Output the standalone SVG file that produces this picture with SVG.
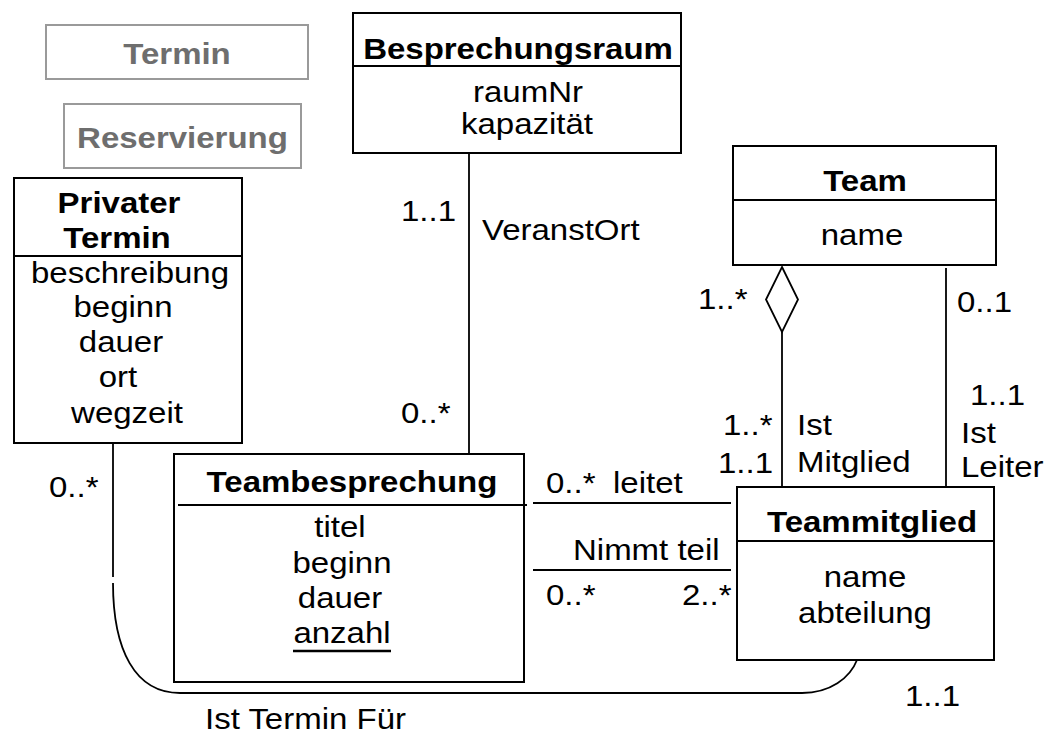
<svg xmlns="http://www.w3.org/2000/svg" width="1050" height="736" viewBox="0 0 1050 736">
  <style>
    text { font-family: "Liberation Sans", Arial, sans-serif; font-size: 30px; fill: #000; }
    .b { font-weight: bold; }
    .c { text-anchor: middle; }
    .grey { fill: #6e6e6e; }
    .box { fill: #fff; stroke: #000; stroke-width: 2; }
    .gbox { fill: #fff; stroke: #9a9a9a; stroke-width: 2; }
    .div { stroke: #000; stroke-width: 2; }
    .edge { fill: none; stroke: #000; stroke-width: 1.8; }
  </style>

  <!-- abstract classes (grey) -->
  <g id="termin">
    <rect class="gbox" x="46" y="25" width="262" height="54"/>
    <text class="b c grey" transform="translate(177,64) scale(1.1,1)">Termin</text>
  </g>
  <g id="reservierung">
    <rect class="gbox" x="64" y="104" width="237" height="64"/>
    <text class="b c grey" transform="translate(182.5,148) scale(1.1,1)">Reservierung</text>
  </g>

  <!-- connectors -->
  <g id="connectors">
    <!-- VeranstOrt -->
    <line class="edge" x1="469" y1="153" x2="469" y2="454"/>
    <!-- Ist Mitglied (aggregation) -->
    <polygon class="edge" fill="#fff" points="782,267 798,299.5 782,332 766,299.5"/>
    <line class="edge" x1="782" y1="332" x2="782" y2="487"/>
    <!-- Ist Leiter -->
    <line class="edge" x1="946" y1="268" x2="946" y2="487"/>
    <!-- leitet -->
    <line class="edge" x1="533" y1="503" x2="731" y2="503"/>
    <!-- Nimmt teil -->
    <line class="edge" x1="533" y1="570" x2="731" y2="570"/>
    <!-- Ist Termin Für -->
    <line class="edge" x1="113" y1="444" x2="113" y2="577"/>
    <path class="edge" d="M113,583 C113,650 135,693 180,693 L802,693 C830,693 850,678 857,660"/>

    <!-- multiplicities and role names -->
    <text transform="translate(401,221) scale(1.1,1)">1..1</text>
    <text transform="translate(482,240) scale(1.1,1)">VeranstOrt</text>
    <text transform="translate(401,423) scale(1.1,1)">0..*</text>
    <text transform="translate(698,309) scale(1.1,1)">1..*</text>
    <text transform="translate(957,312) scale(1.1,1)">0..1</text>
    <text transform="translate(723,435) scale(1.1,1)">1..*</text>
    <text transform="translate(718,473) scale(1.1,1)">1..1</text>
    <text transform="translate(797,435) scale(1.1,1)">Ist</text>
    <text transform="translate(797,472) scale(1.1,1)">Mitglied</text>
    <text transform="translate(970,405) scale(1.1,1)">1..1</text>
    <text transform="translate(961,443) scale(1.1,1)">Ist</text>
    <text transform="translate(961,477) scale(1.1,1)">Leiter</text>
    <text transform="translate(546,493) scale(1.1,1)">0..*</text>
    <text transform="translate(613,493) scale(1.1,1)">leitet</text>
    <text transform="translate(573,560) scale(1.1,1)">Nimmt teil</text>
    <text transform="translate(546,605) scale(1.1,1)">0..*</text>
    <text transform="translate(682,605) scale(1.1,1)">2..*</text>
    <text transform="translate(49,497) scale(1.1,1)">0..*</text>
    <text transform="translate(905,706) scale(1.1,1)">1..1</text>
    <text transform="translate(205,729) scale(1.1,1)">Ist Termin Für</text>
  </g>

  <g id="besprechungsraum">
    <rect class="box" x="353" y="13" width="328" height="140"/>
    <line class="div" x1="353" y1="66" x2="681" y2="66"/>
    <text class="b c" transform="translate(518,59) scale(1.1,1)">Besprechungsraum</text>
    <text class="c" transform="translate(528,102) scale(1.1,1)">raumNr</text>
    <text class="c" transform="translate(527,134) scale(1.1,1)">kapazität</text>
  </g>

  <g id="team">
    <rect class="box" x="733" y="146" width="263" height="119"/>
    <line class="div" x1="733" y1="200" x2="996" y2="200"/>
    <text class="b c" transform="translate(865,191) scale(1.1,1)">Team</text>
    <text class="c" transform="translate(862,245) scale(1.1,1)">name</text>
  </g>

  <g id="privater-termin">
    <rect class="box" x="14" y="178" width="228" height="265"/>
    <line class="div" x1="14" y1="256" x2="242" y2="256"/>
    <text class="b c" transform="translate(119,213) scale(1.1,1)">Privater</text>
    <text class="b c" transform="translate(117,248) scale(1.1,1)">Termin</text>
    <text class="c" transform="translate(130,283) scale(1.1,1)">beschreibung</text>
    <text class="c" transform="translate(123,317) scale(1.1,1)">beginn</text>
    <text class="c" transform="translate(121,352) scale(1.1,1)">dauer</text>
    <text class="c" transform="translate(118,387) scale(1.1,1)">ort</text>
    <text class="c" transform="translate(127,423) scale(1.1,1)">wegzeit</text>
  </g>

  <g id="teambesprechung">
    <rect class="box" x="174" y="454" width="350" height="228"/>
    <line class="div" x1="178" y1="505" x2="527" y2="505"/>
    <text class="b c" transform="translate(352,492) scale(1.1,1)">Teambesprechung</text>
    <text class="c" transform="translate(340,537) scale(1.1,1)">titel</text>
    <text class="c" transform="translate(342,573) scale(1.1,1)">beginn</text>
    <text class="c" transform="translate(340,608) scale(1.1,1)">dauer</text>
    <text class="c" transform="translate(342,643) scale(1.1,1)">anzahl</text>
    <line x1="293" y1="651" x2="391" y2="651" stroke="#000" stroke-width="2.5"/>
  </g>

  <g id="teammitglied">
    <rect class="box" x="737" y="487" width="257" height="173"/>
    <line class="div" x1="737" y1="541" x2="994" y2="541"/>
    <text class="b c" transform="translate(872,532) scale(1.1,1)">Teammitglied</text>
    <text class="c" transform="translate(865,587) scale(1.1,1)">name</text>
    <text class="c" transform="translate(865,623) scale(1.1,1)">abteilung</text>
  </g>
</svg>
